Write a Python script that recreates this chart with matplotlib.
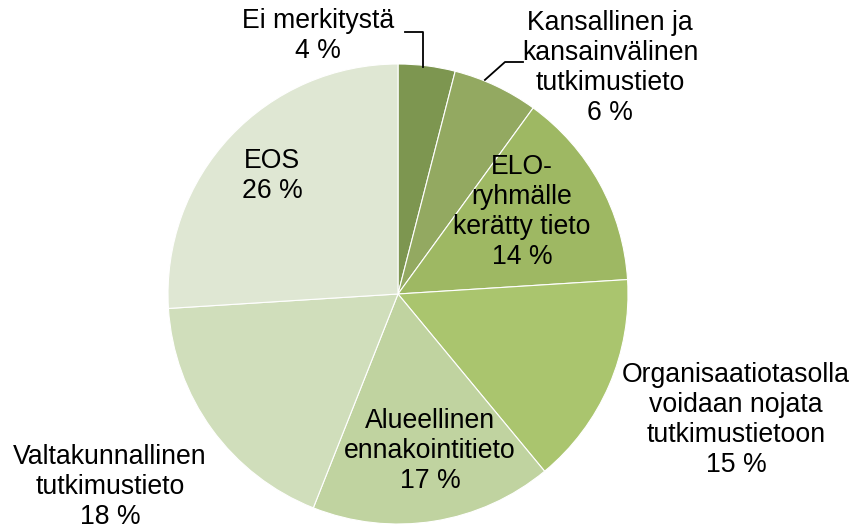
import matplotlib
matplotlib.use("Agg")
import matplotlib.pyplot as plt
import numpy as np

labels = ["Ei merkitystä", "Kansallinen ja\nkansainvälinen\ntutkimustieto", "ELO-\nryhmälle\nkerätty tieto",
          "Organisaatiotasolla\nvoidaan nojata\ntutkimustietoon", "Alueellinen\nennakointitieto",
          "Valtakunnallinen\ntutkimustieto", "EOS"]
values = [4, 6, 14, 15, 17, 18, 26]
colors = ["#7D9650", "#93A961", "#9EB863", "#AAC56E", "#C0D3A0", "#D0DEBB", "#DFE7D3"]

# label centers in pixel coordinates (x, y from top)
label_pos = [(318, 36), (610, 68), (522, 212), (736, 420), (430, 451), (110, 487), (272, 176)]

W, H = 853, 526
fig = plt.figure(figsize=(W / 100, H / 100), dpi=100)
ax = fig.add_axes([0, 0, 1, 1])

cx, cy, r = 398, H - 294, 230
wedges, _ = ax.pie(values, colors=colors, startangle=90, counterclock=False,
                   center=(cx, cy), radius=r, frame=True,
                   wedgeprops=dict(linewidth=0.8, edgecolor="white"))
ax.set_xlim(0, W)
ax.set_ylim(0, H)
ax.set_aspect("equal")
ax.axis("off")

font = dict(family="Liberation Sans", fontsize=19.2, color="black", ha="center", va="center", linespacing=1.2)
for lab, v, (x, y) in zip(labels, values, label_pos):
    ax.text(x, H - y, f"{lab}\n{v} %", **font)

# leader lines for the two small slices
def edge_point(w, frac=1.0):
    ang = np.deg2rad((w.theta1 + w.theta2) / 2)
    return cx + r * frac * np.cos(ang), cy + r * frac * np.sin(ang)

x0, y0 = edge_point(wedges[0])
ax.plot([405, x0 - 4, x0 - 4], [H - 32, H - 32, y0 - 1], color="black", lw=1.3)
x1, y1 = edge_point(wedges[1])
ax.plot([523, 505, x1 - 11], [H - 62, H - 62, y1 + 6], color="black", lw=1.3)

fig.savefig("out.png", dpi=100)
